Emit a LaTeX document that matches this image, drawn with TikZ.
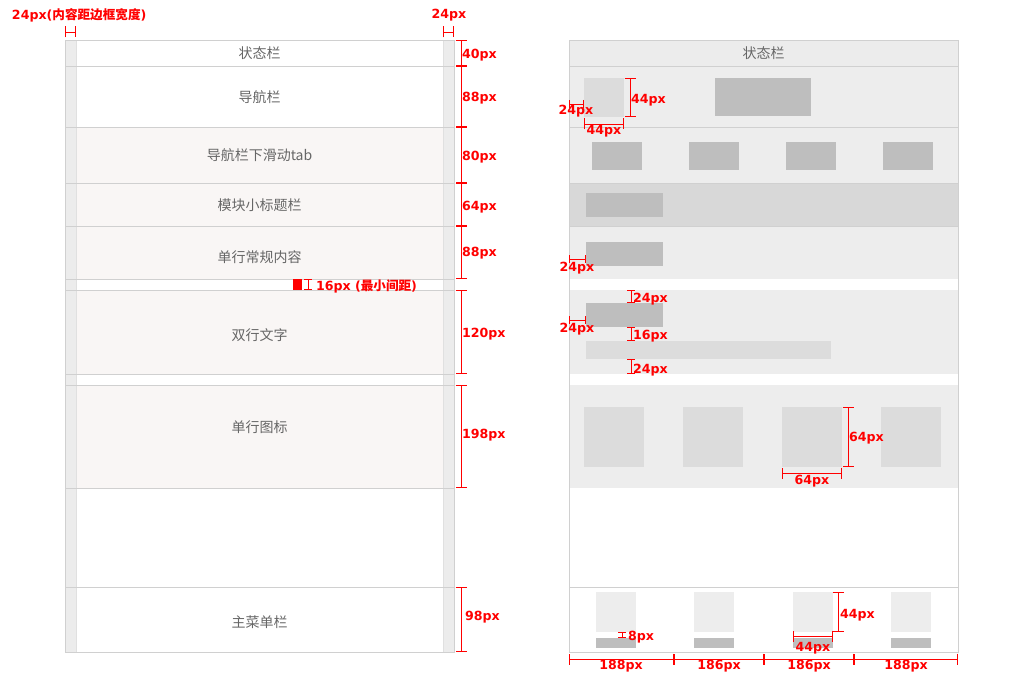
\documentclass[tikz,border=0pt]{standalone}
\usepackage{fontspec}
\setmainfont{DejaVu Sans}
\newfontfamily\cjk{Noto Sans CJK SC}
\usetikzlibrary{arrows.meta}
\definecolor{linegray}{RGB}{208,208,208}
\definecolor{stripgray}{RGB}{236,236,236}
\definecolor{pinkbg}{RGB}{249,246,245}
\definecolor{panelgray}{RGB}{237,237,237}
\definecolor{darkpanel}{RGB}{216,216,216}
\definecolor{blockdark}{RGB}{190,190,190}
\definecolor{blocklight}{RGB}{220,220,220}
\definecolor{textgray}{RGB}{102,102,102}
\newcommand{\redtxt}[1]{{\bfseries #1}}
\newcommand{\redcn}[1]{{\cjk\bfseries #1}}

\begin{document}
\begin{tikzpicture}[x=1pt,y=-1pt,
  every node/.style={inner sep=0pt, outer sep=0pt},
  cnlabel/.style={text=textgray, font=\cjk\fontsize{14}{14}\selectfont},
  pxlabel/.style={text=red, anchor=west, font=\fontsize{12.6}{12.6}\selectfont},
  dimline/.style={draw=red, line width=0.9pt, {Bar[width=11pt]}-{Bar[width=11pt]}},
  dimsmall/.style={draw=red, line width=0.9pt, {Bar[width=8pt]}-{Bar[width=8pt]}},
  rowline/.style={draw=linegray, line width=0.8pt}]

\useasboundingbox (0,0) rectangle (1012,698);

% left screen
\fill[pinkbg] (76,127) rectangle (443,279);
\fill[pinkbg] (76,290) rectangle (443,374);
\fill[pinkbg] (76,385) rectangle (443,488);
\fill[stripgray] (65,40) rectangle (76,652);
\fill[stripgray] (443,40) rectangle (454,652);
\draw[draw=black!12] (76,40) -- (76,652);
\draw[draw=black!12] (443,40) -- (443,652);
\draw[rowline] (65,40) rectangle (454,652);
\draw[rowline] (65,66) -- (454,66);
\draw[rowline] (65,127) -- (454,127);
\draw[rowline] (65,183) -- (454,183);
\draw[rowline] (65,226) -- (454,226);
\draw[rowline] (65,279) -- (454,279);
\draw[rowline] (65,290) -- (454,290);
\draw[rowline] (65,374) -- (454,374);
\draw[rowline] (65,385) -- (454,385);
\draw[rowline] (65,488) -- (454,488);
\draw[rowline] (65,587) -- (454,587);

\node[cnlabel] (status) at (259.5,53) {状态栏};
\node[cnlabel] (nav) at (259.5,97) {导航栏};
\node[cnlabel] (tab) at (259.5,155) {导航栏下滑动tab};
\node[cnlabel] (subtitle) at (259.5,205) {模块小标题栏};
\node[cnlabel] (single) at (259.5,257) {单行常规内容};
\node[cnlabel] (double) at (259.5,335) {双行文字};
\node[cnlabel] (icons) at (259.5,427) {单行图标};
\node[cnlabel] (menu) at (259.5,622) {主菜单栏};

% left measures
\node[pxlabel] (padnote) at (12,15) {\redtxt{24px(}\redcn{内容距边框宽度}\redtxt{)}};
\draw[dimline] (65,32) -- (76,32);
\node[pxlabel, anchor=center] (padright) at (449,15) {\redtxt{24px}};
\draw[dimline] (443,32) -- (454,32);
\draw[dimline] (461,40) -- (461,66);
\draw[dimline] (461,66) -- (461,127);
\draw[dimline] (461,127) -- (461,183);
\draw[dimline] (461,183) -- (461,226);
\draw[dimline] (461,226) -- (461,279);
\draw[dimline] (461,290) -- (461,374);
\draw[dimline] (461,385) -- (461,488);
\draw[dimline] (461,587) -- (461,652);
\node[pxlabel] (h40) at (462,55) {\redtxt{40px}};
\node[pxlabel] (h88a) at (462,98) {\redtxt{88px}};
\node[pxlabel] (h80) at (462,157) {\redtxt{80px}};
\node[pxlabel] (h64) at (462,207) {\redtxt{64px}};
\node[pxlabel] (h88b) at (462,253) {\redtxt{88px}};
\node[pxlabel] (h120) at (462,334) {\redtxt{120px}};
\node[pxlabel] (h198) at (462,435) {\redtxt{198px}};
\node[pxlabel] (h98) at (465,617) {\redtxt{98px}};
\fill[red] (293,279) rectangle (302,290);
\draw[dimsmall] (308,279) -- (308,290);
\node[pxlabel] (gapnote) at (316,286) {\redtxt{16px (}\redcn{最小间距}\redtxt{)}};

% right screen
\fill[stripgray] (569,40) rectangle (958,66);
\fill[panelgray] (569,66) rectangle (958,183);
\fill[darkpanel] (569,183) rectangle (958,226);
\fill[panelgray] (569,226) rectangle (958,279);
\fill[panelgray] (569,290) rectangle (958,374);
\fill[panelgray] (569,385) rectangle (958,488);
\draw[rowline] (569,40) rectangle (958,652);
\draw[rowline] (569,66) -- (958,66);
\draw[rowline] (569,127) -- (958,127);
\draw[rowline] (569,183) -- (958,183);
\draw[rowline] (569,226) -- (958,226);
\draw[rowline] (569,587) -- (958,587);
\node[cnlabel] (status2) at (763.5,53) {状态栏};

\fill[blocklight] (584,78) rectangle (624,117);
\fill[blockdark] (715,78) rectangle (811,116);
\fill[blockdark] (592,142) rectangle (642,170);
\fill[blockdark] (689,142) rectangle (739,170);
\fill[blockdark] (786,142) rectangle (836,170);
\fill[blockdark] (883,142) rectangle (933,170);
\fill[blockdark] (586,193) rectangle (663,217);
\fill[blockdark] (586,242) rectangle (663,266);
\fill[blockdark] (586,303) rectangle (663,327);
\fill[blocklight] (586,341) rectangle (831,359);
\fill[blocklight] (584,407) rectangle (644,467);
\fill[blocklight] (683,407) rectangle (743,467);
\fill[blocklight] (782,407) rectangle (842,467);
\fill[blocklight] (881,407) rectangle (941,467);
\fill[panelgray] (596,592) rectangle (636,632);
\fill[panelgray] (694,592) rectangle (734,632);
\fill[panelgray] (793,592) rectangle (833,632);
\fill[panelgray] (891,592) rectangle (931,632);
\fill[blockdark] (596,638) rectangle (636,648);
\fill[blockdark] (694,638) rectangle (734,648);
\fill[blockdark] (793,638) rectangle (833,648);
\fill[blockdark] (891,638) rectangle (931,648);

% right measures
\draw[dimline] (630,78) -- (630,117);
\node[pxlabel] (logoh) at (631,100) {\redtxt{44px}};
\draw[dimline] (584,124) -- (624,124);
\node[pxlabel, anchor=center] (logow) at (604,131) {\redtxt{44px}};
\draw[dimsmall] (569,104) -- (584,104);
\node[pxlabel, anchor=center] (navpad) at (576,111) {\redtxt{24px}};
\draw[dimsmall] (569,259) -- (586,259);
\node[pxlabel, anchor=center] (rowpad) at (577,268) {\redtxt{24px}};
\draw[dimsmall] (631,290) -- (631,303);
\node[pxlabel] (toppad) at (633,299) {\redtxt{24px}};
\draw[dimsmall] (569,320) -- (586,320);
\node[pxlabel, anchor=center] (leftpad) at (577,329) {\redtxt{24px}};
\draw[dimsmall] (631,327) -- (631,341);
\node[pxlabel] (linegap) at (633,336) {\redtxt{16px}};
\draw[dimsmall] (631,359) -- (631,374);
\node[pxlabel] (botpad) at (633,370) {\redtxt{24px}};
\draw[dimline] (848,407) -- (848,467);
\node[pxlabel] (iconh) at (849,438) {\redtxt{64px}};
\draw[dimline] (782,473) -- (842,473);
\node[pxlabel, anchor=center] (iconw) at (812,481) {\redtxt{64px}};
\draw[dimsmall] (622,632) -- (622,638);
\node[pxlabel] (menugap) at (628,637) {\redtxt{8px}};
\draw[dimline] (838,592) -- (838,632);
\node[pxlabel] (menuh) at (840,615) {\redtxt{44px}};
\draw[dimline] (793,636) -- (833,636);
\node[pxlabel, anchor=center] (menuw) at (813,648) {\redtxt{44px}};
\draw[dimline] (569,659) -- (674,659);
\draw[dimline] (674,659) -- (764,659);
\draw[dimline] (764,659) -- (854,659);
\draw[dimline] (854,659) -- (958,659);
\node[pxlabel, anchor=center] (col1) at (621,666) {\redtxt{188px}};
\node[pxlabel, anchor=center] (col2) at (719,666) {\redtxt{186px}};
\node[pxlabel, anchor=center] (col3) at (809,666) {\redtxt{186px}};
\node[pxlabel, anchor=center] (col4) at (906,666) {\redtxt{188px}};
\end{tikzpicture}
\end{document}
